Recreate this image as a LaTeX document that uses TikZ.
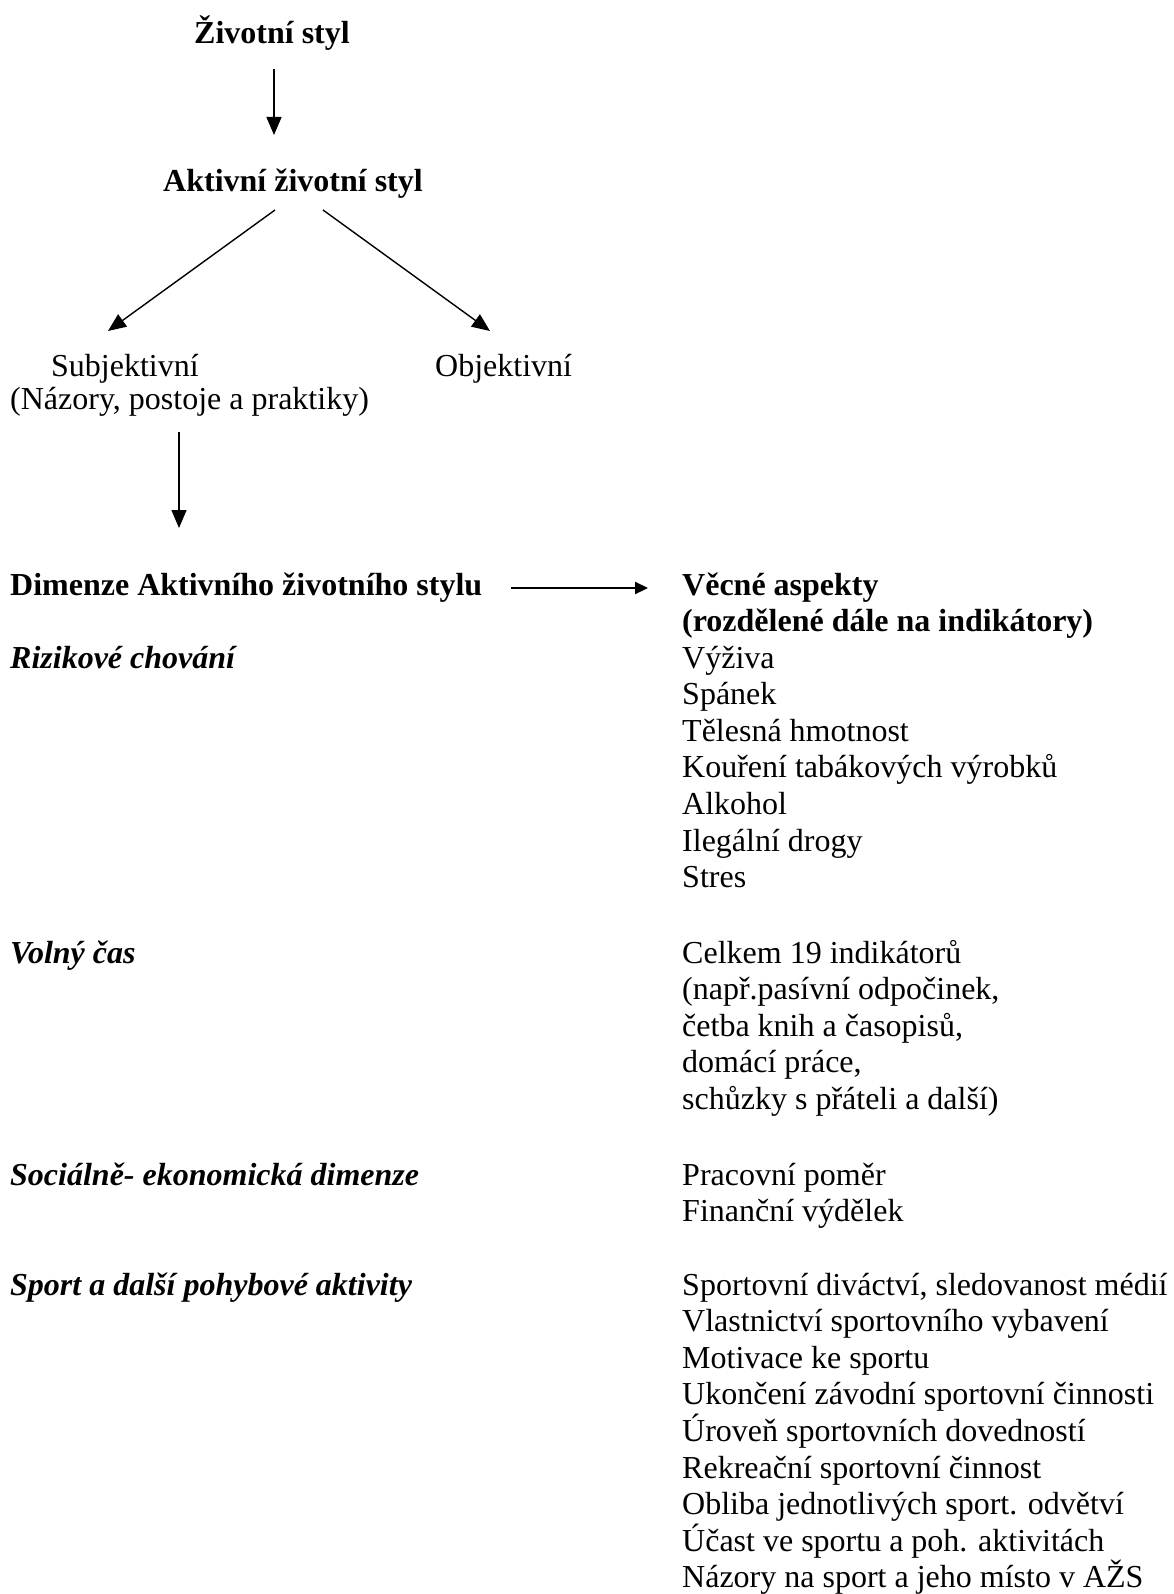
\documentclass[tikz,border=0pt]{standalone}
\usepackage{fontspec}
\setmainfont{Liberation Serif}
\usetikzlibrary{arrows.meta}
\begin{document}
\begin{tikzpicture}[x=1pt,y=1pt,
  txt/.style={anchor=base west,inner sep=0pt,font=\fontsize{32}{36.6}\selectfont},
  btxt/.style={anchor=base west,inner sep=0pt,font=\fontsize{32}{36.6}\selectfont\bfseries},
  bitxt/.style={anchor=base west,inner sep=0pt,font=\fontsize{32}{36.6}\selectfont\bfseries\itshape},
  ctxt/.style={anchor=base,inner sep=0pt,font=\fontsize{32}{36.6}\selectfont\bfseries},
  arr/.style={line width=1.4pt,-{Triangle[length=18pt,width=15pt]}},
  harr/.style={line width=2.2pt,-{Triangle[length=13pt,width=12pt]}}]
\useasboundingbox (0,0) rectangle (1173,-1594);
\fill[white] (0,0) rectangle (1173,-1594);
% top part
\node[ctxt] (zs) at (272,-44) {Životní styl};
\node[ctxt] (azs) at (293,-192) {Aktivní životní styl};
\node[txt] (subj) at (51,-376) {Subjektivní};
\node[txt] (nazory) at (10,-409) {(Názory, postoje a praktiky)};
\node[txt] (obj) at (435,-376) {Objektivní};
\coordinate (a1s) at (274,-69);
\coordinate (a1e) at (274,-135);
\coordinate (a2s) at (275,-210);
\coordinate (a2e) at (108,-331);
\coordinate (a3s) at (323,-210);
\coordinate (a3e) at (490,-331);
\coordinate (a4s) at (179,-432);
\coordinate (a4e) at (179,-528);
\draw[arr] (a1s) -- (a1e);
\draw[arr] (a2s) -- (a2e);
\draw[arr] (a3s) -- (a3e);
\draw[arr] (a4s) -- (a4e);
% dimensions header
\node[btxt] (dim) at (10,-595) {Dimenze Aktivního životního stylu};
\node[btxt] (vec) at (682,-595) {Věcné aspekty};
\node[btxt] (rozd) at (682,-631.6) {(rozdělené dále na indikátory)};
\coordinate (hs) at (511,-588);
\coordinate (he) at (648,-588);
\draw[harr] (hs) -- (he);
% left dimension labels
\node[bitxt] (d1) at (10,-668) {Rizikové chování};
\node[bitxt] (d2) at (10,-963) {Volný čas};
\node[bitxt] (d3) at (10,-1185) {Sociálně- ekonomická dimenze};
\node[bitxt] (d4) at (10,-1295) {Sport a další pohybové aktivity};
% right items
\foreach \t [count=\i from 0] in {Výživa,Spánek,Tělesná hmotnost,Kouření tabákových výrobků,Alkohol,Ilegální drogy,Stres}
  \node[txt] (ra\i) at (682,-668-36.6*\i) {\t};
\foreach \t [count=\i from 0] in {Celkem 19 indikátorů,{(např.pasívní odpočinek,},{četba knih a časopisů,},{domácí práce,},schůzky s přáteli a další)}
  \node[txt] (rb\i) at (682,-963-36.6*\i) {\t};
\foreach \t [count=\i from 0] in {Pracovní poměr,Finanční výdělek}
  \node[txt] (rc\i) at (682,-1185-36.6*\i) {\t};
\foreach \t [count=\i from 0] in {{Sportovní diváctví, sledovanost médií},Vlastnictví sportovního vybavení,Motivace ke sportu,Ukončení závodní sportovní činnosti,Úroveň sportovních dovedností,Rekreační sportovní činnost,Obliba jednotlivých sport. odvětví,Účast ve sportu a poh. aktivitách,Názory na sport a jeho místo v AŽS}
  \node[txt] (rd\i) at (682,-1295-36.6*\i) {\t};
\end{tikzpicture}
\end{document}
